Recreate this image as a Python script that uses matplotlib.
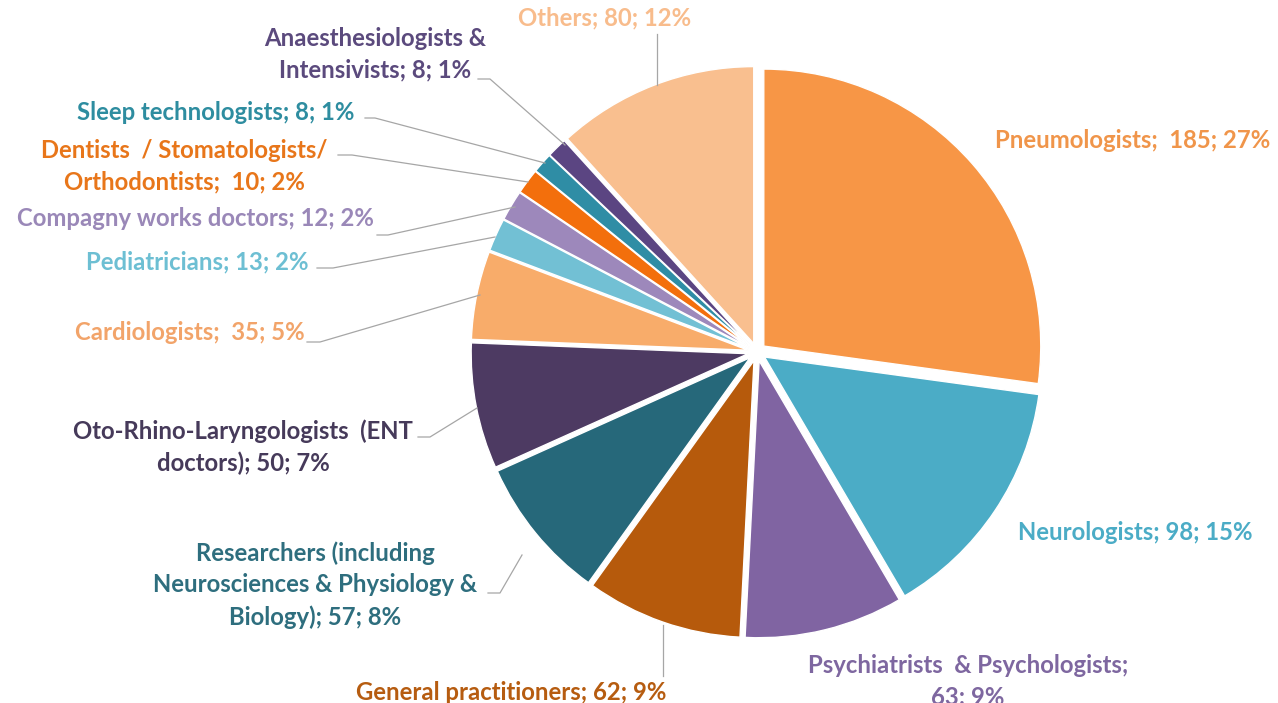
import matplotlib
matplotlib.use("Agg")
import matplotlib.pyplot as plt

# ---- data ----
categories = ["Pneumologists", "Neurologists", "Psychiatrists & Psychologists",
              "General practitioners", "Researchers", "Oto-Rhino-Laryngologists",
              "Cardiologists", "Pediatricians", "Compagny works doctors",
              "Dentists", "Sleep technologists", "Anaesthesiologists", "Others"]
values = [185, 98, 63, 62, 57, 50, 35, 13, 12, 10, 8, 8, 80]
labels = ["Pneumologists;  185; 27%",
          "Neurologists; 98; 15%",
          "Psychiatrists  & Psychologists;\n63; 9%",
          "General practitioners; 62; 9%",
          "Researchers (including\nNeurosciences & Physiology &\nBiology); 57; 8%",
          "Oto-Rhino-Laryngologists  (ENT\ndoctors); 50; 7%",
          "Cardiologists;  35; 5%",
          "Pediatricians; 13; 2%",
          "Compagny works doctors; 12; 2%",
          "Dentists  / Stomatologists/\nOrthodontists;  10; 2%",
          "Sleep technologists; 8; 1%",
          "Anaesthesiologists &\nIntensivists; 8; 1%",
          "Others; 80; 12%"]

slice_colors = ["#F79646", "#4BACC6", "#8064A2", "#B65A0C", "#26687A", "#4D3A62",
                "#F8AC6A", "#72C0D4", "#9D88BB", "#F36F0C", "#2F8DA5", "#5B4582",
                "#F9BF8F"]
label_colors = ["#F0954A", "#4BACC6", "#7E67A0", "#B65C10", "#2E6E7E", "#463A5A",
                "#F2A46A", "#6DBFD3", "#9A88B8", "#E8761A", "#2E8DA0", "#5B4A7D",
                "#F8BC8C"]

# ---- layout (pixel coordinates, y from top) ----
W, H = 1278, 703
cx, cy, R = 757, 352, 277
offset_px = 9

# label anchor: (x, y, ha)
label_pos = [(995, 140, "left"), (1018, 532, "left"), (968, 681, "center"),
             (511, 692, "center"), (315, 585, "center"), (243, 447, "center"),
             (190, 333, "center"), (197, 262, "center"), (195, 219, "center"),
             (184, 166, "center"), (216, 112, "center"), (375, 54, "center"),
             (605, 18, "center")]

leaders = [None, None, None,
           [(663, 625), (663, 676)],
           [(488, 593), (500, 593), (522, 555)],
           [(418, 437), (430, 437), (477, 408)],
           [(307, 342), (320, 342), (480, 295)],
           [(317, 268), (333, 268), (495, 237)],
           [(377, 235), (388, 235), (515, 207)],
           [(338, 155), (352, 155), (528, 182)],
           [(365, 118), (375, 118), (545, 163)],
           [(478, 79), (490, 79), (565, 145)],
           [(657, 34), (657, 85)]]

fig = plt.figure(figsize=(W / 100, H / 100), dpi=100)
ax = fig.add_axes([0, 0, 1, 1])

ax.pie(values, colors=slice_colors, startangle=90, counterclock=False,
       center=(cx, H - cy), radius=R, explode=[offset_px] * len(values),
       wedgeprops=dict(edgecolor="white", linewidth=1.0), frame=True)
ax.set_xlim(0, W)
ax.set_ylim(0, H)
ax.set_aspect("equal")
ax.axis("off")

for pts in leaders:
    if pts is None:
        continue
    xs = [p[0] for p in pts]
    ys = [H - p[1] for p in pts]
    ax.plot(xs, ys, color="#A6A6A6", lw=0.9, zorder=1)

fs = 17.2
for lab, (x, y, ha), col in zip(labels, label_pos, label_colors):
    ax.text(x, H - y, lab, ha=ha, va="center", color=col, fontsize=fs,
            fontfamily="Lato", fontweight="bold", linespacing=1.45,
            multialignment="center")

fig.savefig("out.png", dpi=100, facecolor="white")
